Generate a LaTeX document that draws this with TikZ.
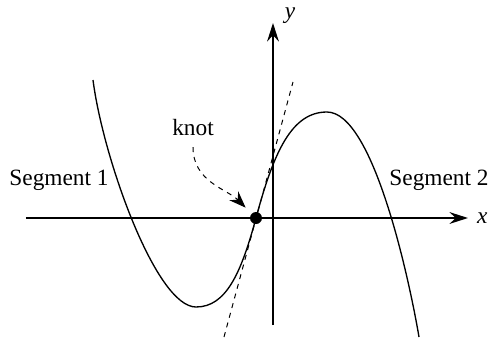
\documentclass[tikz,border=0pt]{standalone}
\usepackage{fontspec}
\setmainfont{Liberation Serif}
\usepackage{tikz}
\usetikzlibrary{arrows.meta,positioning}

\begin{document}
\begin{tikzpicture}[
    x=0.6pt, y=0.6pt,
    axis/.style={-{Stealth[length=11pt,width=7pt]}, line width=1.3pt},
    curve/.style={line width=0.8pt},
    tangent/.style={dashed, line width=0.6pt},
    dot/.style={circle, fill, inner sep=0pt, minimum size=7.2pt},
    pointer/.style={-{Stealth[length=10pt,width=7.5pt]}, dashed, line width=0.6pt},
    label style/.style={font=\fontsize{14}{16}\selectfont}
  ]
  \useasboundingbox (-273,-119) rectangle (219,218);

  %% Axes
  \coordinate (xstart) at (-247,0);
  \coordinate (xend)   at (195,0);
  \coordinate (ystart) at (0,-107);
  \coordinate (yend)   at (0,195);
  \draw[axis] (xstart) -- (xend);
  \draw[axis] (ystart) -- (yend);
  \node[label style, right=2pt of xend] (xlab) {\textit{x}};
  \node[label style] (ylab) at (17,202) {\textit{y}};

  %% Tangent at the knot
  \draw[tangent] (-49,-119) -- (20,136);

  %% Segment 1 and segment 2
  \draw[curve] (-180,138) .. controls (-170,60) and (-117,-89) .. (-77,-89)
               .. controls (-47,-89) and (-32,-55.5) .. (-17,0);
  \draw[curve] (-17,0) .. controls (1,67) and (19,106) .. (54,106)
               .. controls (100,106) and (136,-60) .. (146,-119);

  %% Knot
  \node[dot] (knot) at (-17,0) {};
  \node[label style] (knotlab) at (-80,90) {knot};
  \draw[pointer, shorten >=5pt] ([yshift=-3pt]knotlab.south) to[out=-90, in=135] (knot);

  %% Segment labels
  \node[label style] (seg1) at (-214,38) {Segment 1};
  \node[label style] (seg2) at (166,38) {Segment 2};

\end{tikzpicture}
\end{document}
